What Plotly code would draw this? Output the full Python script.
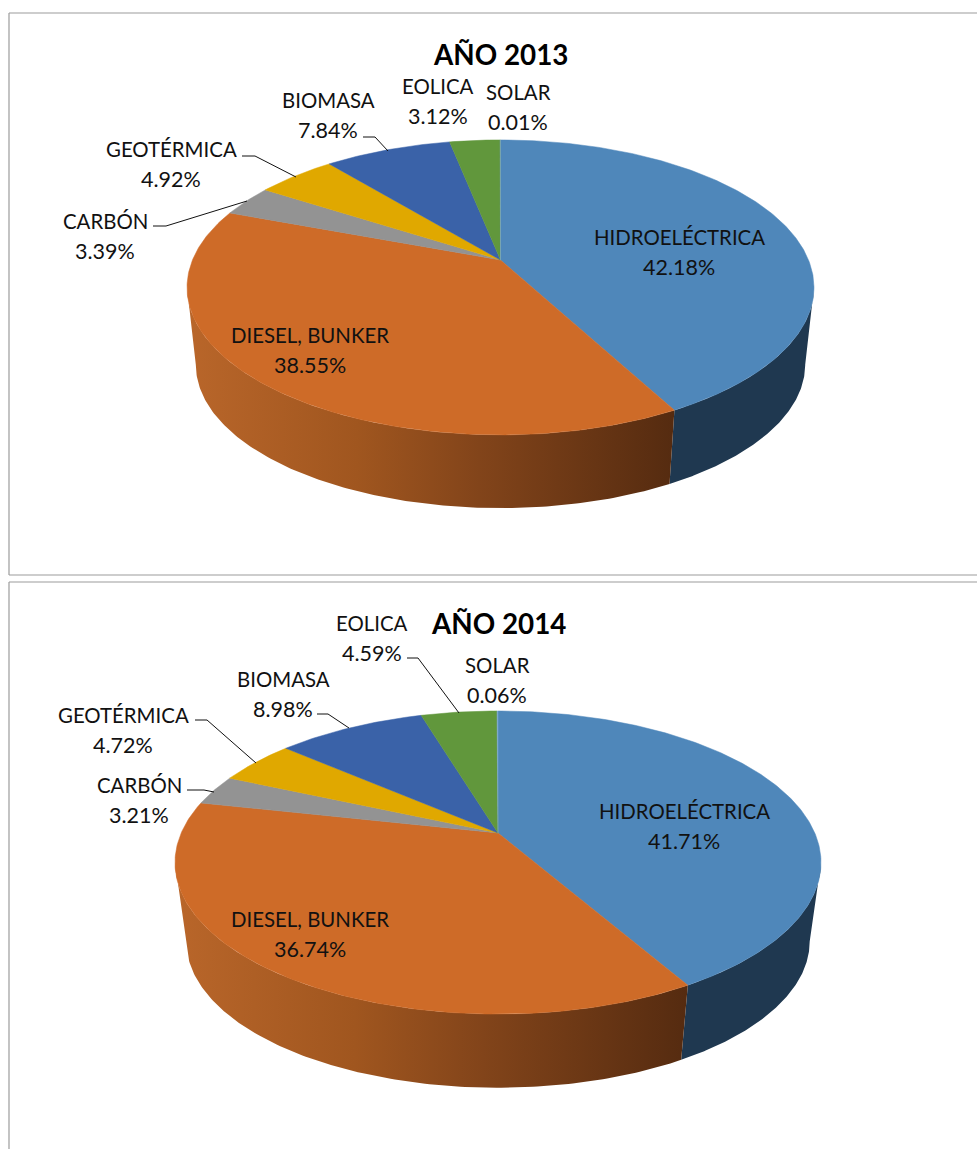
import numpy as np
import plotly.graph_objects as go

# ---------- data ----------
NAMES = ["HIDROELÉCTRICA", "DIESEL, BUNKER", "CARBÓN", "GEOTÉRMICA", "BIOMASA", "EOLICA", "SOLAR"]
VALUES_2013 = [42.18, 38.55, 3.39, 4.92, 7.84, 3.12, 0.01]
VALUES_2014 = [41.71, 36.74, 3.21, 4.72, 8.98, 4.59, 0.06]
YEARS = ["AÑO 2013", "AÑO 2014"]

# ---------- styles / layout ----------
TOP_COLORS = ["#4f87ba", "#ce6b28", "#939393", "#e0a800", "#3a62a8", "#61973c", "#7fa8cf"]
BLUE_SIDE = "#1f3850"
ORANGE_RAMP = [[0, "#b9662a"], [0.35, "#a0561f"], [0.6, "#82441a"], [1, "#552b10"]]
FONT = "Lato, Carlito, Calibri, sans-serif"
NAME_SIZE = 20.4
PCT_SIZE = 21.5
TITLE_SIZE = 27.8
LINE_GAP = 29.5

GEOM_2013 = dict(cx=500.5, cy=260, A=308, B=142.4, k=0.186, s=0.972, cyb=338)
GEOM_2014 = dict(cx=498, cy=833, A=316.8, B=145.8, k=0.195, s=0.965, cyb=913)

LABEL_POS_2013 = [(679, 237), (310, 335), (105, 221), (171, 149), (328, 100), (438, 86), (518, 92)]
LABEL_POS_2014 = [(684, 811), (310, 919), (139, 785), (123, 715), (283, 679), (372, 623), (497, 665)]
TITLE_POS = [(500, 54), (498, 623)]

LEADERS_2013 = [
    [(242, 156), (255, 156), (296, 177)],
    [(153, 226), (166, 226), (247, 201)],
    [(363, 137), (375, 137), (388, 151)],
]
LEADERS_2014 = [
    [(407, 658), (418, 658), (459, 713)],
    [(317, 714), (328, 714), (349, 728)],
    [(195, 720), (207, 720), (256, 763)],
    [(187, 790), (204, 790), (214, 792)],
]


def rim(theta, g, bottom=False):
    """Perspective projection of points of the pie's circular rim."""
    u, v = np.sin(theta), -np.cos(theta)
    d = 1 - g["k"] * v
    sc = g["s"] if bottom else 1.0
    y0 = g["cyb"] if bottom else g["cy"]
    return g["cx"] + sc * g["A"] * u / d, y0 + sc * g["B"] * v / d


fig = go.Figure()


def add_pie(values, g):
    total = sum(values)
    edges = np.concatenate([[0], np.cumsum(values)]) / total * 2 * np.pi
    # angle at which the rim reaches its widest point: the wall's silhouette starts there
    tangent = float(np.arccos(-g["k"]))
    spans = [(tangent, edges[1], BLUE_SIDE), (edges[1], 2 * np.pi - tangent, None)]
    for a, b, col in spans:
        th = np.linspace(a, b, 160)
        xt, yt = rim(th, g)
        xb, yb = rim(th[::-1], g, bottom=True)
        xs = np.concatenate([xt, xb])
        ys = np.concatenate([yt, yb])
        kw = dict(fillcolor=col) if col else dict(
            fillgradient=dict(type="horizontal", colorscale=ORANGE_RAMP,
                              start=float(xs.min()), stop=float(xs.max())))
        fig.add_trace(go.Scatter(x=xs, y=ys, mode="lines", fill="toself", line=dict(width=0),
                                 hoverinfo="skip", showlegend=False, **kw))
    # top faces
    for i, col in enumerate(TOP_COLORS):
        n = max(4, int((edges[i + 1] - edges[i]) * 80))
        th = np.linspace(edges[i], edges[i + 1], n)
        xt, yt = rim(th, g)
        xs = np.concatenate([[g["cx"]], xt, [g["cx"]]])
        ys = np.concatenate([[g["cy"]], yt, [g["cy"]]])
        fig.add_trace(go.Scatter(x=xs, y=ys, mode="lines", fill="toself", fillcolor=col,
                                 line=dict(width=0.5, color=col), hoverinfo="skip", showlegend=False))


def add_labels(values, positions, leaders):
    for name, val, (x, y) in zip(NAMES, values, positions):
        for txt, yy, size in ((name, y, NAME_SIZE), (f"{val:.2f}%", y + LINE_GAP, PCT_SIZE)):
            fig.add_annotation(x=x, y=yy, text=txt, showarrow=False, xanchor="center", yanchor="middle",
                               font=dict(family=FONT, size=size, color="#111111"))
    for pts in leaders:
        fig.add_trace(go.Scatter(x=[p[0] for p in pts], y=[p[1] for p in pts], mode="lines",
                                 line=dict(color="#111111", width=1), hoverinfo="skip", showlegend=False))


add_pie(VALUES_2013, GEOM_2013)
add_pie(VALUES_2014, GEOM_2014)
add_labels(VALUES_2013, LABEL_POS_2013, LEADERS_2013)
add_labels(VALUES_2014, LABEL_POS_2014, LEADERS_2014)

for title, (x, y) in zip(YEARS, TITLE_POS):
    fig.add_annotation(x=x, y=y, text=f"<b>{title}</b>", showarrow=False, xanchor="center", yanchor="middle",
                       font=dict(family=FONT, size=TITLE_SIZE, color="#000000"))

BORDER = dict(color="#9c9c9c", width=1.2)
for x0, y0, x1, y1 in [(9, 13, 977, 13), (9, 13, 9, 575), (9, 575, 977, 575),
                       (9, 582, 977, 582), (9, 582, 9, 1149)]:
    fig.add_shape(type="line", x0=x0, y0=y0, x1=x1, y1=y1, line=BORDER, layer="below")

fig.update_layout(
    width=977, height=1149, margin=dict(l=0, r=0, t=0, b=0),
    paper_bgcolor="white", plot_bgcolor="white", showlegend=False,
    xaxis=dict(range=[0, 977], visible=False, fixedrange=True),
    yaxis=dict(range=[1149, 0], visible=False, fixedrange=True),
)
fig.write_html("out.html", config={"displayModeBar": False},
               post_script="document.body.style.margin='0';document.body.style.overflow='hidden';")
